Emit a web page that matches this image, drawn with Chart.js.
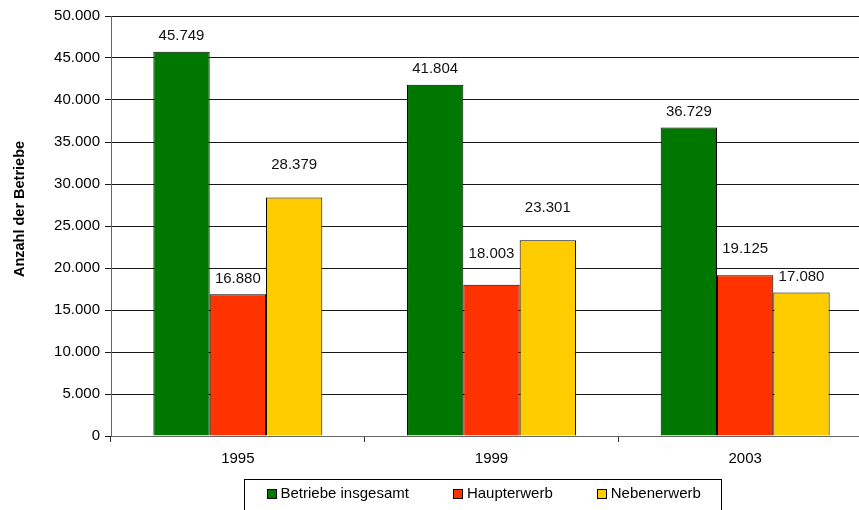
<!DOCTYPE html>
<html lang="de">
<head>
<meta charset="utf-8">
<script src="https://cdn.jsdelivr.net/npm/chart.js@4/dist/chart.umd.min.js"></script>
<style>
  html, body { margin: 0; padding: 0; background: #fff; overflow: hidden; }
  #wrap { position: relative; width: 872px; height: 510px; }
</style>
</head>
<body>
<div id="wrap"><canvas id="chart"></canvas></div>
<script>
// Anzahl der landwirtschaftlichen Betriebe nach Erwerbsart, 1995 / 1999 / 2003
const JAHRE = ['1995', '1999', '2003'];
const SERIEN = ['Betriebe insgesamt', 'Haupterwerb', 'Nebenerwerb'];
const BETRIEBE_INSGESAMT = [45749, 41804, 36729];
const HAUPTERWERB = [16880, 18003, 19125];
const NEBENERWERB = [28379, 23301, 17080];
const Y_MIN = 0;
const Y_MAX = 50000;
const Y_SCHRITT = 5000;
const Y_TITEL = 'Anzahl der Betriebe';

const FARBEN = ['#007800', '#ff3300', '#ffcc00'];
// Abstand der Wertbeschriftung über dem Balken (px), wie im Original leicht unregelmäßig
const LABEL_ABSTAND = [[16, 16, 16], [15, 31, 26], [33, 32, 16]];
const FONT = 'Liberation Sans, Arial, sans-serif';

const fmt = (v) => String(v).replace(/\B(?=(\d{3})+(?!\d))/g, '.');

const werteBeschriftung = {
    id: 'werteBeschriftung',
    afterDatasetsDraw(chart) {
        const ctx = chart.ctx;
        ctx.save();
        ctx.font = '15px ' + FONT;
        ctx.fillStyle = '#111';
        ctx.textAlign = 'center';
        ctx.textBaseline = 'middle';
        chart.data.datasets.forEach((ds, di) => {
            chart.getDatasetMeta(di).data.forEach((bar, i) => {
                ctx.fillText(fmt(ds.data[i]), bar.x, bar.y - LABEL_ABSTAND[di][i]);
            });
        });
        ctx.restore();
    },
};

// Y-Achsentitel und Legende im Kasten wie im Excel-Original
const rahmenLegende = {
    id: 'rahmenLegende',
    afterDraw(chart) {
        const ctx = chart.ctx;
        ctx.save();
        ctx.font = 'bold 14.5px ' + FONT;
        ctx.fillStyle = '#000';
        ctx.textAlign = 'center';
        ctx.textBaseline = 'middle';
        ctx.translate(20, 209);
        ctx.rotate(-Math.PI / 2);
        ctx.fillText(Y_TITEL, 0, 0);
        ctx.restore();

        ctx.save();
        ctx.font = '15px ' + FONT;
        const box = 10, gapText = 4, gapItem = 44, padL = 22, padR = 21;
        const breiten = chart.data.datasets.map((ds) => ctx.measureText(ds.label).width);
        const inhalt = breiten.reduce((s, w) => s + box + gapText + w, 0) + gapItem * (breiten.length - 1);
        const w = padL + inhalt + padR;
        const left = Math.round(482.5 - w / 2) + 0.5;
        const top = 479.5, h = 31;
        ctx.strokeStyle = '#000';
        ctx.lineWidth = 1;
        ctx.strokeRect(left, top, Math.round(w), h);
        let x = left + padL;
        const cy = top + 14.5;
        chart.data.datasets.forEach((ds, i) => {
            ctx.fillStyle = ds.backgroundColor;
            ctx.fillRect(Math.round(x), Math.round(cy - box / 2), box, box);
            ctx.strokeStyle = '#000';
            ctx.strokeRect(Math.round(x) + 0.5, Math.round(cy - box / 2) + 0.5, box - 1, box - 1);
            ctx.fillStyle = '#000';
            ctx.textAlign = 'left';
            ctx.textBaseline = 'middle';
            ctx.fillText(ds.label, x + box + gapText, cy);
            x += box + gapText + breiten[i] + gapItem;
        });
        ctx.restore();
    },
};

const reihen = [BETRIEBE_INSGESAMT, HAUPTERWERB, NEBENERWERB];

new Chart(document.getElementById('chart'), {
    type: 'bar',
    data: {
        labels: JAHRE,
        datasets: reihen.map((werte, i) => ({
            label: SERIEN[i],
            data: werte,
            backgroundColor: FARBEN[i],
            borderColor: '#000',
            borderWidth: 1,
            borderSkipped: 'bottom',
            categoryPercentage: 0.666,
            barPercentage: 1,
        })),
    },
    options: {
        responsive: true,
        maintainAspectRatio: false,
        animation: false,
        layout: { padding: { top: 16, left: 0, right: 0, bottom: 34 } },
        plugins: {
            legend: { display: false },
            tooltip: { enabled: false },
        },
        scales: {
            x: {
                grid: { display: true, drawOnChartArea: false, offset: true, color: '#333', tickLength: 6 },
                border: { color: '#666' },
                ticks: { color: '#000', font: { family: FONT, size: 15 }, padding: 8 },
            },
            y: {
                min: Y_MIN,
                max: Y_MAX,
                afterFit: (s) => { s.width = 111; },
                grid: { color: '#1a1a1a', tickLength: 6 },
                border: { color: '#666' },
                ticks: {
                    stepSize: Y_SCHRITT,
                    color: '#000',
                    font: { family: FONT, size: 15 },
                    padding: 5,
                    callback: (v) => fmt(v),
                },
            },
        },
    },
    plugins: [werteBeschriftung, rahmenLegende],
});
</script>
</body>
</html>
